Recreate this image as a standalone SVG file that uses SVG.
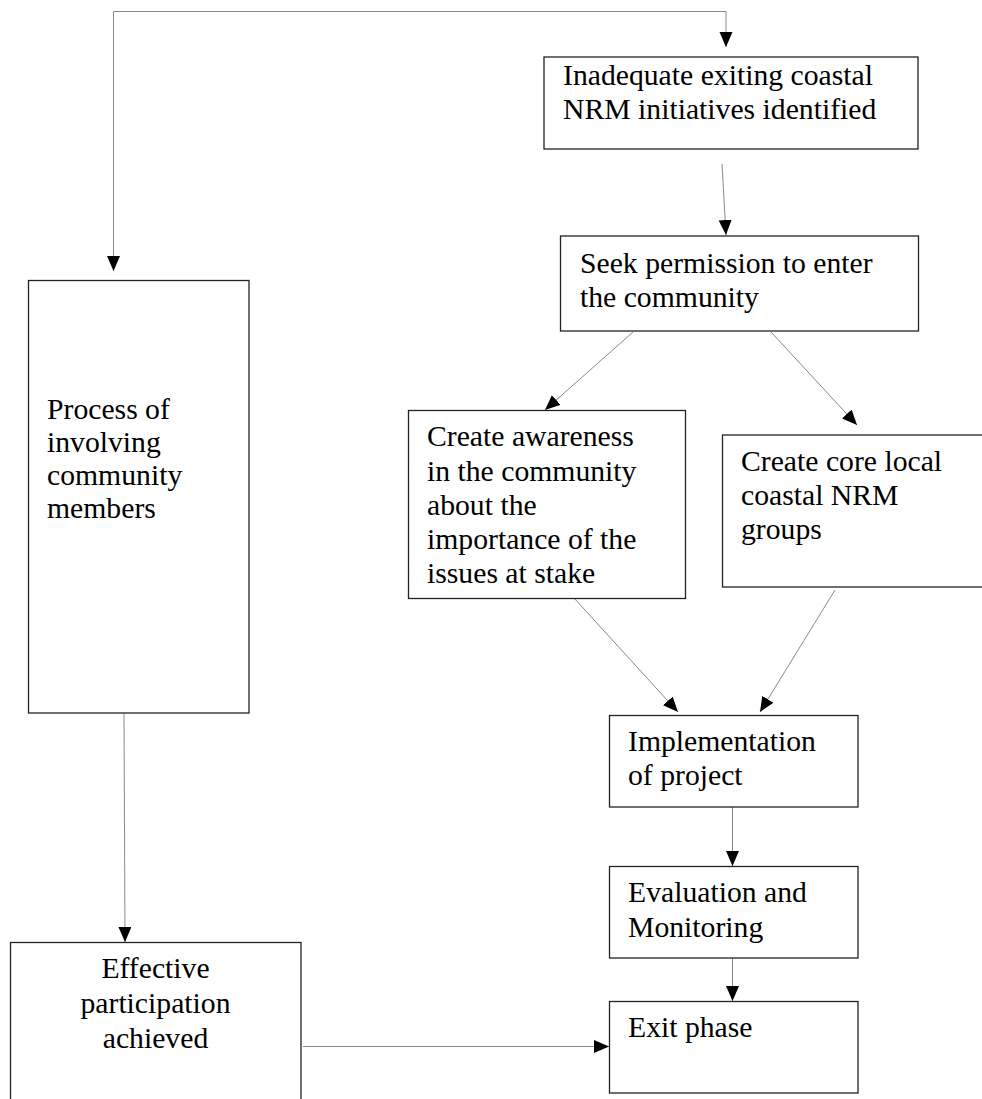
<svg xmlns="http://www.w3.org/2000/svg" width="982" height="1099" viewBox="0 0 982 1099">
  <style>
    .box { fill: #ffffff; stroke: #222222; stroke-width: 1.3; }
    .lbl { font-family: 'Liberation Serif', 'Times New Roman', Times, 'DejaVu Serif', serif; font-size: 29.7px; fill: #000000; }
    .mid { text-anchor: middle; }
    .edge { fill: none; stroke: #8a8a8a; stroke-width: 1; marker-end: url(#arrow); }
  </style>
  <defs>
    <marker id="arrow" markerUnits="userSpaceOnUse" markerWidth="16" markerHeight="14" refX="15" refY="6.5" orient="auto">
      <path d="M0,0 L15,6.5 L0,13 z" fill="#000000"/>
    </marker>
  </defs>
  <rect width="982" height="1099" fill="#ffffff"/>

  <!-- connectors -->
  <g id="connectors">
    <path class="edge" d="M113.5,11.5 L113.5,271"/>
    <path class="edge" d="M113.5,11.5 L726,11.5 L726,47"/>
    <path class="edge" d="M722,164 L726,235"/>
    <path class="edge" d="M633,332 L545,410"/>
    <path class="edge" d="M771,332 L857,425"/>
    <path class="edge" d="M574,598 L678,712"/>
    <path class="edge" d="M835,590 L760,712"/>
    <path class="edge" d="M732.5,807 L732.5,866"/>
    <path class="edge" d="M732.5,958 L732.5,1001"/>
    <path class="edge" d="M124,713 L125,942"/>
    <path class="edge" d="M303,1046.5 L609,1046.5"/>
  </g>

  <g id="inadequate">
    <rect class="box" x="544" y="57" width="374" height="92"/>
    <text class="lbl" x="563" y="85" font-family="Liberation Serif, serif">Inadequate exiting coastal</text>
    <text class="lbl" x="563" y="119" font-family="Liberation Serif, serif">NRM initiatives identified</text>
  </g>

  <g id="seek-permission">
    <rect class="box" x="560.5" y="236" width="358" height="95"/>
    <text class="lbl" x="580" y="273">Seek permission to enter</text>
    <text class="lbl" x="580" y="307">the community</text>
  </g>

  <g id="create-awareness">
    <rect class="box" x="408.5" y="410.5" width="277" height="188"/>
    <text class="lbl" x="427" y="446">Create awareness</text>
    <text class="lbl" x="427" y="480.5">in the community</text>
    <text class="lbl" x="427" y="515">about the</text>
    <text class="lbl" x="427" y="549">importance of the</text>
    <text class="lbl" x="427" y="583">issues at stake</text>
  </g>

  <g id="core-groups">
    <rect class="box" x="722.5" y="435" width="262" height="152"/>
    <text class="lbl" x="741" y="471">Create core local</text>
    <text class="lbl" x="741" y="505">coastal NRM</text>
    <text class="lbl" x="741" y="539">groups</text>
  </g>

  <g id="process">
    <rect class="box" x="28.5" y="280.5" width="220.5" height="432.5"/>
    <text class="lbl" x="47" y="419">Process of</text>
    <text class="lbl" x="47" y="452">involving</text>
    <text class="lbl" x="47" y="485">community</text>
    <text class="lbl" x="47" y="518">members</text>
  </g>

  <g id="implementation">
    <rect class="box" x="609.5" y="715.5" width="248.5" height="91.5"/>
    <text class="lbl" x="628" y="751">Implementation</text>
    <text class="lbl" x="628" y="785">of project</text>
  </g>

  <g id="evaluation">
    <rect class="box" x="609.5" y="866.5" width="248.5" height="91.5"/>
    <text class="lbl" x="628" y="902">Evaluation and</text>
    <text class="lbl" x="628" y="937">Monitoring</text>
  </g>

  <g id="exit-phase">
    <rect class="box" x="609.5" y="1001.5" width="248.5" height="91.5"/>
    <text class="lbl" x="628" y="1037">Exit phase</text>
  </g>

  <g id="effective">
    <rect class="box" x="10.5" y="942.5" width="290.5" height="160"/>
    <text class="lbl mid" x="155.5" y="978">Effective</text>
    <text class="lbl mid" x="155.5" y="1013">participation</text>
    <text class="lbl mid" x="155.5" y="1048">achieved</text>
  </g>
</svg>
